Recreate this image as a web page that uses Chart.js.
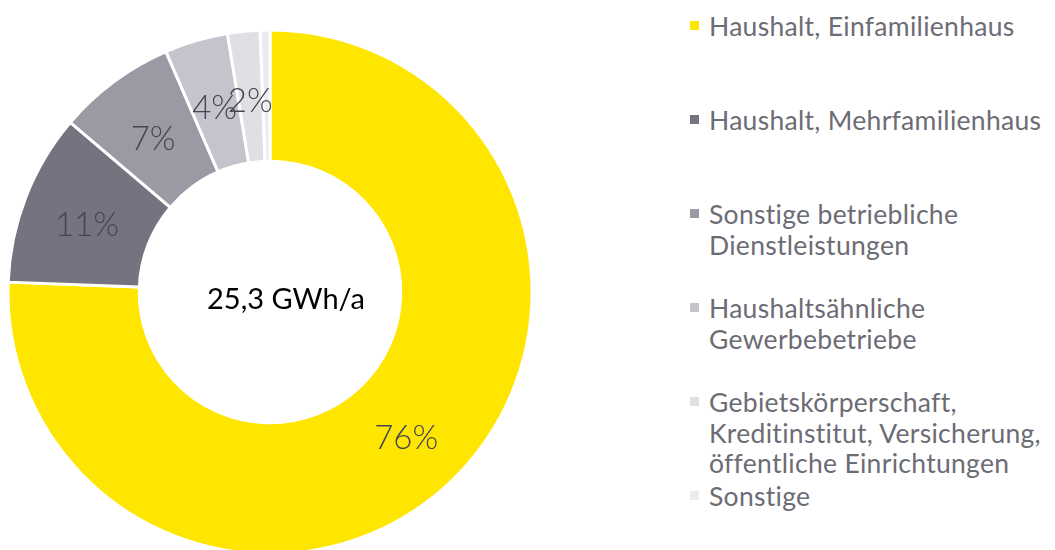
<!DOCTYPE html>
<html>
<head>
<meta charset="utf-8">
<script src="https://cdn.jsdelivr.net/npm/chart.js@4"></script>
<style>
  html, body { margin:0; padding:0; background:#fff; width:1055px; height:550px; overflow:hidden; }
  #wrap { position:absolute; left:0; top:22px; width:540px; height:540px; }
  #legend { position:absolute; left:690px; top:0; font-family: Lato, "Open Sans", sans-serif; font-weight:400; font-size:26.5px; letter-spacing:0.3px; color:#6c6c75; }
  .item { position:absolute; left:0; white-space:nowrap; line-height:30.5px; }
  .sw { position:absolute; left:0; top:10px; width:9px; height:9px; }
  .txt { position:absolute; left:19px; top:0; }
</style>
</head>
<body>
<div id="wrap"><canvas id="c"></canvas></div>
<div id="legend"></div>
<script>
const categories = [
  ["Haushalt, Einfamilienhaus"],
  ["Haushalt, Mehrfamilienhaus"],
  ["Sonstige betriebliche", "Dienstleistungen"],
  ["Haushaltsähnliche", "Gewerbebetriebe"],
  ["Gebietskörperschaft,", "Kreditinstitut, Versicherung,", "öffentliche Einrichtungen"],
  ["Sonstige"]
];
const shares = [75.6, 10.6, 7.3, 3.9, 2.0, 0.6];
const colors = ["#FFE600", "#747480", "#9A9AA4", "#C4C4CD", "#DFDFE4", "#EBEBF0"];
const centerText = "25,3 GWh/a";

// HTML legend
const legend = document.getElementById('legend');
categories.forEach((lines, i) => {
  const it = document.createElement('div');
  it.className = 'item';
  it.style.top = (11 + i * 94) + 'px';
  const sw = document.createElement('div');
  sw.className = 'sw';
  sw.style.background = colors[i];
  const tx = document.createElement('div');
  tx.className = 'txt';
  tx.innerHTML = lines.join('<br>');
  it.appendChild(sw); it.appendChild(tx);
  legend.appendChild(it);
});

const labelPlugin = {
  id: 'labels',
  afterDatasetsDraw(chart) {
    const ctx = chart.ctx;
    const meta = chart.getDatasetMeta(0);
    const total = shares.reduce((a, b) => a + b, 0);
    ctx.save();
    ctx.textAlign = 'center';
    ctx.textBaseline = 'middle';
    ctx.font = '300 33px Lato, "Open Sans", sans-serif';
    ctx.fillStyle = '#45454f';
    meta.data.forEach((arc, i) => {
      if (shares[i] < 1) return;
      const pct = Math.round(shares[i] / total * 100);
      const p = arc.tooltipPosition();
      ctx.fillText(pct + '%', p.x, p.y + 5);
    });
    // center text
    const x = (chart.chartArea.left + chart.chartArea.right) / 2;
    const y = (chart.chartArea.top + chart.chartArea.bottom) / 2;
    ctx.font = '400 29px Lato, "Open Sans", sans-serif';
    ctx.fillStyle = '#000';
    ctx.fillText(centerText, x + 16, y + 8);
    ctx.restore();
  }
};

new Chart(document.getElementById('c'), {
  type: 'doughnut',
  data: {
    labels: categories.map(l => l.join(' ')),
    datasets: [{
      data: shares,
      backgroundColor: colors,
      borderColor: '#ffffff',
      borderWidth: 3
    }]
  },
  options: {
    responsive: true,
    maintainAspectRatio: false,
    animation: false,
    radius: 262,
    cutout: 134,
    layout: { padding: 0 },
    plugins: {
      legend: { display: false },
      tooltip: { enabled: false }
    }
  },
  plugins: [labelPlugin]
});
</script>
</body>
</html>
